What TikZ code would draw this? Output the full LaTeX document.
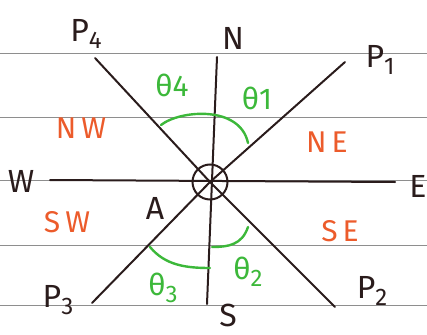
\documentclass[tikz,border=0pt]{standalone}
\usepackage{fontspec}
\setmainfont{Fira Sans}
\usepackage{tikz}
\usetikzlibrary{arrows.meta, positioning}
\definecolor{mInk}{HTML}{2A1C1C}
\definecolor{mOrange}{HTML}{EC5B2B}
\definecolor{mGreen}{HTML}{3CB83A}
\definecolor{mRule}{HTML}{8E8E8E}
\newcommand{\lowdig}[1]{\raisebox{-7pt}{\fontsize{24}{24}\selectfont #1}}

\begin{document}
\begin{tikzpicture}[x=1pt, y=-1pt,
    ink/.style={draw=mInk, line width=2pt, line cap=round},
    ruled/.style={draw=mRule, line width=0.9pt},
    swing/.style={draw=mGreen, line width=2.4pt, line cap=round},
    tag/.style={text=mInk, inner sep=0pt, font=\fontsize{32}{34}\selectfont},
    zone/.style={text=mOrange, inner sep=0pt, font=\fontsize{30}{34}\selectfont},
    ang/.style={text=mGreen, inner sep=0pt, font=\fontsize{30}{34}\selectfont}]
  \useasboundingbox (0,0) rectangle (427,334);
  % notebook lines
  \foreach \y in {53,117,180,245,305}
    \draw[ruled] (0,\y) -- (427,\y);

  % ends of the lines
  \coordinate (O) at (210,182);
  \coordinate (n) at (217,57);
  \coordinate (s) at (207,304);
  \coordinate (w) at (50,180);
  \coordinate (e) at (395,182);
  \coordinate (p1) at (345,62);
  \coordinate (p2) at (335,307);
  \coordinate (p3) at (92,303);
  \coordinate (p4) at (95,58);

  \draw[ink] (n) -- (s);
  \draw[ink] (w) -- (e);
  \draw[ink] (p3) -- (O) -- (p1);
  \draw[ink] (p4) -- (O) -- (p2);
  \node[circle, draw=mInk, line width=2pt, minimum size=35pt, inner sep=0pt] (ring) at (O) {};

  % angles
  \draw[swing] (161,125) .. controls (180,110) and (240,105) .. (248,143);
  \draw[swing] (248,227) .. controls (242,245) and (228,247) .. (212,247);
  \draw[swing] (150,247) .. controls (165,265) and (185,268) .. (210,268);

  % labels
  \node[tag] (lN) at (233,38) {N};
  \node[tag] (lS) at (228,315) {S};
  \node[tag] (lW) at (21,181) {W};
  \node[tag] (lE) at (418,186) {E};
  \node[tag] (lA) at (155,208) {A};
  \node[tag] (lP1) at (380,60) {P\lowdig{1}};
  \node[tag] (lP2) at (372,291) {P\lowdig{2}};
  \node[tag] (lP3) at (58,300) {P\lowdig{3}};
  \node[tag] (lP4) at (86,34) {P\lowdig{4}};

  \node[zone] (lNW) at (81,128) {N\hspace{5pt}W};
  \node[zone] (lNE) at (327,142) {N\hspace{5pt}E};
  \node[zone] (lSW) at (67,222) {S\hspace{5pt}W};
  \node[zone] (lSE) at (340,231) {S\hspace{5pt}E};

  \node[ang] (t4) at (172,85) {θ4};
  \node[ang] (t1) at (257,98) {θ1};
  \node[ang] (t2) at (248,272) {θ\lowdig{2}};
  \node[ang] (t3) at (163,288) {θ\lowdig{3}};
\end{tikzpicture}
\end{document}
